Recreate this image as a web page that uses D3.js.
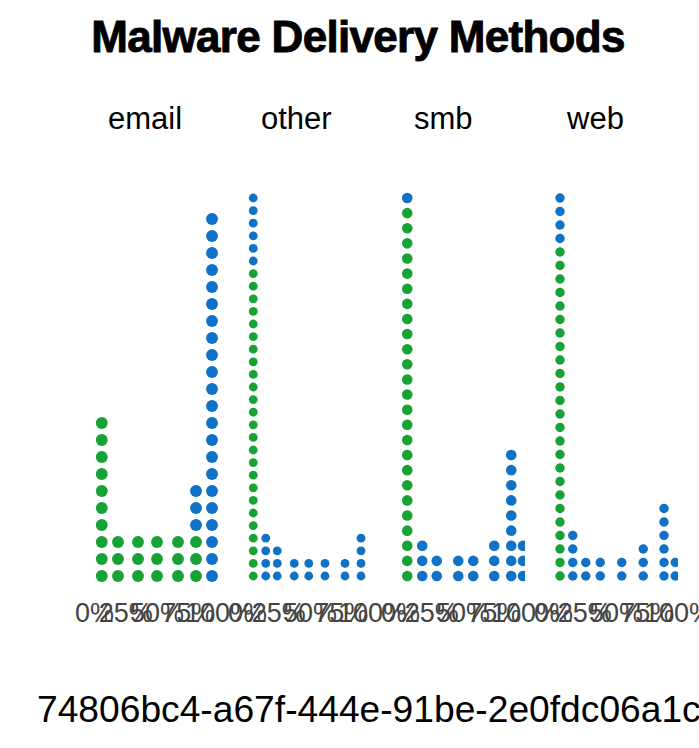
<!DOCTYPE html>
<html>
<head>
<meta charset="utf-8">
<script src="https://cdn.jsdelivr.net/npm/d3@7"></script>
<style>
  html, body { margin: 0; padding: 0; background: #fff; }
  svg { display: block; }
</style>
</head>
<body>
<script>
// ---- data ----
const title = "Malware Delivery Methods";
const caption = "74806bc4-a67f-444e-91be-2e0fdc06a1c0";
const facets = ["email", "other", "smb", "web"];
const tickValues = [0, 0.25, 0.5, 0.75, 1];
const seriesColors = ["#17a236", "#0f72c6"]; // green, blue

// bin centre positions (share of 0..1) per facet
const emailBins = [0.062, 0.192, 0.352, 0.504, 0.672, 0.816, 0.944];
const emailGreen = [10, 3, 3, 3, 3, 3, 0];
const emailBlue  = [0, 0, 0, 0, 0, 3, 22];

const otherBins = [0.050, 0.150, 0.242, 0.378, 0.494, 0.624, 0.784, 0.912];
const otherGreen = [25, 0, 0, 0, 0, 0, 0, 0];
const otherBlue  = [6, 4, 3, 2, 2, 2, 2, 4];

const smbBins = [0.058, 0.178, 0.294, 0.466, 0.586, 0.754, 0.890, 0.984];
const smbGreen = [25, 0, 0, 0, 0, 0, 0, 0];
const smbBlue  = [1, 3, 2, 2, 2, 3, 9, 3];

const webBins = [0.056, 0.158, 0.262, 0.378, 0.550, 0.722, 0.888, 0.978];
const webGreen = [25, 0, 0, 0, 0, 0, 0, 0];
const webBlue  = [4, 4, 2, 2, 2, 3, 6, 2];

const facetData = [
  { bins: emailBins, green: emailGreen, blue: emailBlue },
  { bins: otherBins, green: otherGreen, blue: otherBlue },
  { bins: smbBins, green: smbGreen, blue: smbBlue },
  { bins: webBins, green: webGreen, blue: webBlue }
];

// ---- layout ----
const W = 699, H = 748;
const font = "'Liberation Sans', Arial, Helvetica, sans-serif";
const panelLeft0 = 94, panelStep = 153, panelW = 125;
const baseY = 576, topY = 198, maxStep = 17;

const svg = d3.select("body").append("svg")
  .attr("width", W).attr("height", H);

svg.append("text")
  .attr("x", 358).attr("y", 52)
  .attr("text-anchor", "middle")
  .attr("font-family", font)
  .attr("font-weight", 700)
  .attr("font-size", 44)
  .attr("letter-spacing", -0.7)
  .attr("fill", "#000")
  .attr("stroke", "#000")
  .attr("stroke-width", 0.9)
  .text(title);

const defs = svg.append("defs");

facets.forEach((name, k) => {
  const px = panelLeft0 + k * panelStep;
  const fd = facetData[k];
  const x = d3.scaleLinear().domain([0, 1]).range([px, px + panelW]);

  // build stacked dots: green first, then blue on top
  const dots = [];
  fd.bins.forEach((b, i) => {
    let level = 0;
    for (let j = 0; j < fd.green[i]; j++) dots.push({ v: b, level: level++, s: 0 });
    for (let j = 0; j < fd.blue[i]; j++) dots.push({ v: b, level: level++, s: 1 });
  });
  const maxStack = d3.max(fd.bins.map((b, i) => fd.green[i] + fd.blue[i]));
  const step = Math.min((baseY - topY) / (maxStack - 1), maxStep);
  const y = d3.scaleLinear().domain([0, maxStack - 1])
    .range([baseY, baseY - (maxStack - 1) * step]);
  const r = step * 0.35;

  defs.append("clipPath").attr("id", "clip" + k)
    .append("rect")
    .attr("x", px - 20).attr("y", 150)
    .attr("width", panelW + 20).attr("height", 450);

  const g = svg.append("g");

  g.append("text")
    .attr("x", px + 14).attr("y", 129)
    .attr("font-family", font)
    .attr("font-size", 31)
    .attr("fill", "#000")
    .text(name);

  g.append("g").attr("clip-path", "url(#clip" + k + ")")
    .selectAll("circle").data(dots).join("circle")
    .attr("cx", d => x(d.v))
    .attr("cy", d => y(d.level))
    .attr("r", r)
    .attr("fill", d => seriesColors[d.s]);

  const axis = d3.axisBottom(x)
    .tickValues(tickValues)
    .tickFormat(d3.format(".0%"))
    .tickSize(0).tickPadding(0);
  const ag = g.append("g").attr("transform", `translate(0,603)`).call(axis);
  ag.select(".domain").remove();
  ag.selectAll("text")
    .attr("font-family", font)
    .attr("font-size", 27)
    .attr("fill", "#444");
});

svg.append("text")
  .attr("x", 37).attr("y", 722)
  .attr("font-family", font)
  .attr("font-size", 37.2)
  .attr("fill", "#000")
  .text(caption);
</script>
</body>
</html>
